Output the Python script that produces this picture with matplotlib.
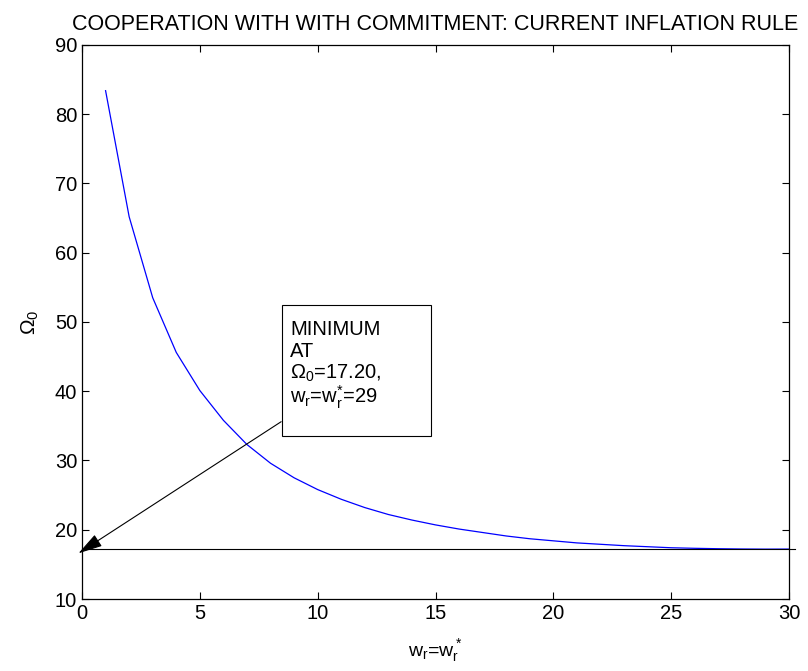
import matplotlib
matplotlib.use("Agg")
import matplotlib.pyplot as plt
from matplotlib.patches import Rectangle

plt.rcParams['font.family'] = ['Liberation Sans', 'DejaVu Sans']
plt.rcParams['mathtext.default'] = 'regular'

# Data
w_values = list(range(1, 31))
omega_values = [83.4, 65.2, 53.5, 45.6, 40.1, 35.8, 32.3, 29.6, 27.5, 25.8,
                24.4, 23.2, 22.2, 21.4, 20.7, 20.1, 19.6, 19.1, 18.7, 18.4,
                18.1, 17.9, 17.7, 17.55, 17.4, 17.32, 17.26, 17.22, 17.20, 17.21]
x_ticks = [0, 5, 10, 15, 20, 25, 30]
y_ticks = [10, 20, 30, 40, 50, 60, 70, 80, 90]
min_omega = 17.20
min_w = 29
title = "COOPERATION WITH WITH COMMITMENT: CURRENT INFLATION RULE"
box_lines = ["MINIMUM", "AT", r"$\Omega_0$=17.20,", r"w$_r$=w$_{r}^{*}$=29"]

fig = plt.figure(figsize=(8.08, 6.71), dpi=100)
ax = fig.add_axes([0.1015, 0.1073, 0.875, 0.8257])
ax.plot(w_values, omega_values, color='#0000ff', lw=0.9)
ax.set_xlim(0, 30)
ax.set_ylim(10, 90)
ax.set_xticks(x_ticks)
ax.set_yticks(y_ticks)
ax.tick_params(direction='in', length=5, top=True, right=True, labelsize=14.5, width=0.8)
for s in ax.spines.values():
    s.set_linewidth(0.9)

ax.set_title(title, fontsize=15.5, pad=11)
ax.set_xlabel(r"w$_r$=w$_r^*$", fontsize=14, labelpad=10)
ax.set_ylabel(r"$\Omega_0$", fontsize=15, labelpad=10)

# horizontal line at minimum
ax.plot([0, 30.25], [min_omega, min_omega], color='black', lw=0.8, clip_on=False)

# arrow from box corner
ax.annotate("", xy=(-0.15, 16.6), xytext=(8.45, 35.6),
            arrowprops=dict(arrowstyle='-|>,head_length=1.0,head_width=0.28',
                            color='black', lw=0.8,
                            mutation_scale=15, shrinkA=0, shrinkB=0),
            annotation_clip=False)

# text box
ax.add_patch(Rectangle((8.49, 33.5), 6.31, 19.0, facecolor='white',
                       edgecolor='black', lw=0.8, zorder=5))
ys = [48.1, 44.95, 41.77, 38.3]
for line, yy in zip(box_lines, ys):
    ax.text(8.83, yy, line, fontsize=14.5, va='baseline', ha='left', zorder=6)

fig.savefig("out.png", dpi=100)
